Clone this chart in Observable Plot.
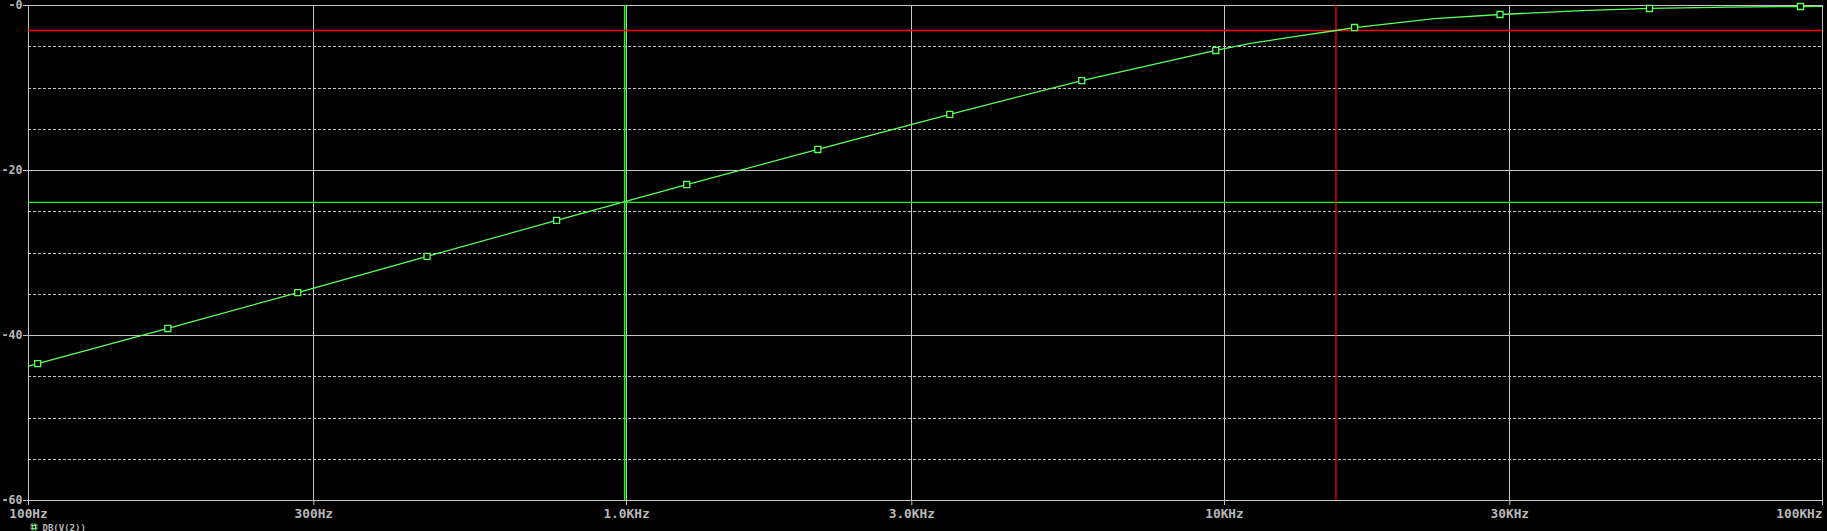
<!DOCTYPE html>
<html>
<head>
<meta charset="utf-8">
<script src="https://cdn.jsdelivr.net/npm/d3@7"></script>
<script src="https://cdn.jsdelivr.net/npm/@observablehq/plot@0.6"></script>
<style>
  html, body { margin: 0; padding: 0; background: #000; overflow: hidden; }
</style>
</head>
<body>
<div id="chart"></div>
<script>
// ---- data ----
const curveFreq = [100, 103.6, 171, 282, 464, 764, 1261, 2089, 3472, 5772, 9670, 11050, 13000, 15360, 16500, 22440, 28890, 39540, 51370, 69760, 91880, 100000];
const curveDb   = [-43.7, -43.4, -39.15, -34.8, -30.4, -26.05, -21.7, -17.45, -13.2, -9.1, -5.45, -4.6, -3.8, -3.03, -2.67, -1.6, -1.09, -0.62, -0.36, -0.2, -0.12, -0.1];

const markerFreq = [103.6, 171, 282, 464, 764, 1261, 2089, 3472, 5772, 9670, 16500, 28890, 51370, 91880];
const markerDb   = [-43.4, -39.15, -34.8, -30.4, -26.05, -21.7, -17.45, -13.2, -9.1, -5.45, -2.67, -1.09, -0.36, -0.12];

const xTicks      = [100, 300, 1000, 3000, 10000, 30000, 100000];
const xTickLabels = ["100Hz", "300Hz", "1.0KHz", "3.0KHz", "10KHz", "30KHz", "100KHz"];
const yTicks      = [0, -20, -40, -60];
const yTickLabels = ["-0", "-20", "-40", "-60"];
const yMinorTicks = [-5, -10, -15, -25, -30, -35, -45, -50, -55];

const cursor1 = {freq: 993, db: -23.87};   // green cursor
const cursor2 = {freq: 15360, db: -3.03};  // red cursor
const legendLabel = "DB(V(2))";

const curve = curveFreq.map((f, i) => ({f, db: curveDb[i]}));
const markers = markerFreq.map((f, i) => ({f, db: markerDb[i]}));

const GRID = "#c4c4c4";
const TEXT = "#b8b8b8";
const TRACE = "#5cff5c";
const CUR_G = "#1cff1c";
const CUR_R = "#ff0000";
const FONT = "DejaVu Sans Mono";

const xLabelMap = new Map(xTicks.map((t, i) => [t, xTickLabels[i]]));
const yLabelMap = new Map(yTicks.map((t, i) => [t, yTickLabels[i]]));

const chart = Plot.plot({
  width: 1827,
  height: 531,
  marginLeft: 28,
  marginRight: 5,
  marginTop: 5,
  marginBottom: 31,
  style: {background: "#000", fontFamily: FONT, fontWeight: "bold", fontSize: "12.8px", overflow: "visible"},
  x: {type: "log", domain: [100, 100000]},
  y: {domain: [-60, 0]},
  marks: [
    // dashed minor grid
    Plot.ruleY(yMinorTicks, {stroke: GRID, strokeWidth: 1, strokeDasharray: "3,2", shapeRendering: "crispEdges"}),
    // solid grid
    Plot.ruleY(yTicks, {stroke: GRID, strokeWidth: 1, shapeRendering: "crispEdges"}),
    Plot.ruleX(xTicks, {stroke: GRID, strokeWidth: 1, shapeRendering: "crispEdges"}),
    // axes
    Plot.axisY({ticks: yTicks, tickFormat: d => yLabelMap.get(d), tickSize: 5, tickPadding: 1,
      stroke: GRID, color: TEXT, fill: TEXT, fontSize: 11.6, label: null}),
    Plot.axisX({ticks: xTicks.slice(0, -1), tickFormat: d => xLabelMap.get(d), tickSize: 5, tickPadding: 3,
      stroke: GRID, color: TEXT, fill: TEXT, fontSize: 12.8, label: null}),
    Plot.axisX({ticks: xTicks.slice(-1), tickFormat: d => xLabelMap.get(d), tickSize: 5, tickPadding: 3,
      textAnchor: "end", stroke: GRID, color: TEXT, fill: TEXT, fontSize: 12.8, label: null}),
    // cursors
    Plot.ruleX([cursor1.freq], {stroke: CUR_G, strokeWidth: 1.6}),
    Plot.ruleY([cursor1.db], {stroke: CUR_G, strokeWidth: 1.3}),
    Plot.ruleX([cursor2.freq], {stroke: CUR_R, strokeWidth: 1.3}),
    Plot.ruleY([cursor2.db], {stroke: CUR_R, strokeWidth: 1.3}),
    // trace
    Plot.line(curve, {x: "f", y: "db", stroke: TRACE, strokeWidth: 1.3}),
    Plot.dot(markers, {x: "f", y: "db", symbol: "square", r: 3.4, stroke: TRACE, fill: "#000", strokeWidth: 1.3}),
    // legend at the very bottom
    Plot.dot([legendLabel], {frameAnchor: "bottom-left", dx: 5.5, dy: 26.5, symbol: "square", r: 3.3,
      stroke: GRID, strokeDasharray: "2,1", fill: "none", strokeWidth: 1}),
    Plot.dot([legendLabel], {frameAnchor: "bottom-left", dx: 5.5, dy: 26.5, symbol: "square", r: 1.9,
      stroke: TRACE, fill: "none", strokeWidth: 1.2}),
    Plot.text([legendLabel], {frameAnchor: "bottom-left", dx: 14, dy: 30.5, text: d => d, textAnchor: "start",
      lineAnchor: "bottom", fill: TEXT, fontSize: 9, fontWeight: "bold"})
  ]
});

document.getElementById("chart").appendChild(chart);
</script>
</body>
</html>
